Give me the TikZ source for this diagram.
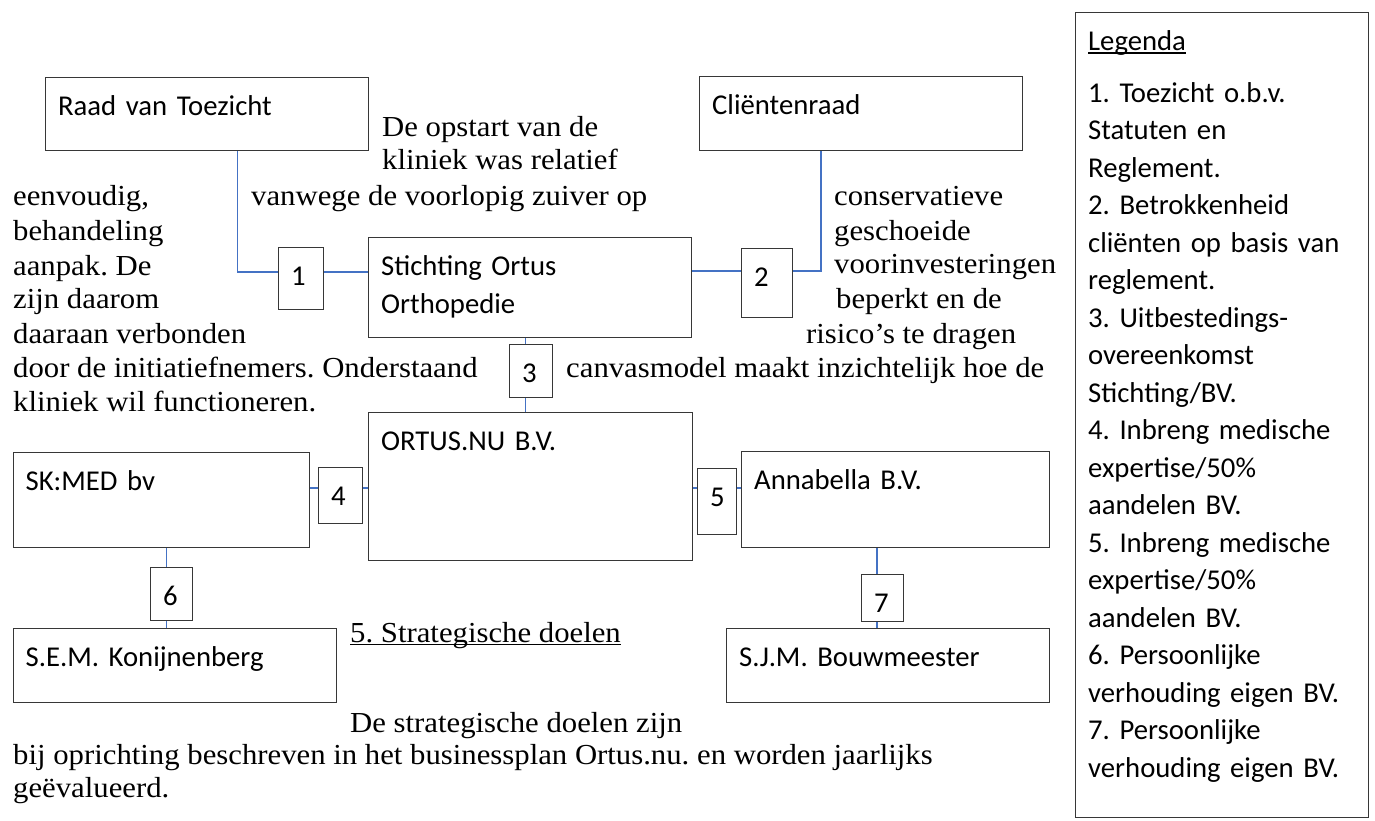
\documentclass[tikz,border=0pt]{standalone}
\usepackage{fontspec}
\setmainfont{Liberation Serif}[FakeStretch=1.06]
\newfontfamily\boxfont{Carlito}
\definecolor{boxline}{RGB}{55,55,55}
\definecolor{linkblue}{RGB}{68,114,196}
\newcommand{\wordline}[1]{\setbox0\hbox{#1}\rlap{\rule[-3pt]{\wd0}{1.2pt}}\box0}

\begin{document}
\frenchspacing
\begin{tikzpicture}[x=1pt,y=-1pt,
    font=\frenchspacing\fontsize{29}{34.5}\selectfont,
    orgbox/.style 2 args={draw=boxline,line width=1.3pt,anchor=north west,
      inner xsep=12.5pt,inner ysep=0pt,text width=#1pt-25pt,
      text height=38pt,text depth=#2pt-38pt,align=left,
      font=\boxfont\frenchspacing\fontsize{28.7}{37.5}\selectfont},
    link/.style={draw=linkblue,line width=1.2pt},
    txt/.style={anchor=base west,inner sep=0pt}]
  \useasboundingbox (0,0) rectangle (1375,820);

  % organisation
  \node[orgbox={323}{73}] (raad) at (45,77) {Raad van Toezicht};
  \node[orgbox={323}{74}] (client) at (699,76) {Cliëntenraad};
  \node[orgbox={323}{100}] (stichting) at (368,237) {Stichting Ortus\\Orthopedie};
  \node[orgbox={324}{148}] (ortus) at (368,412) {ORTUS.NU B.V.};
  \node[orgbox={296}{95}] (skmed) at (12.5,452) {SK:MED bv};
  \node[orgbox={308}{96}] (anna) at (741,451) {Annabella B.V.};
  \node[orgbox={323}{74}] (konij) at (12.5,628) {S.E.M. Konijnenberg};
  \node[orgbox={323}{74}] (bouw) at (726,628) {S.J.M. Bouwmeester};

  % numbered relations
  \node[orgbox={45}{62}] (n1) at (278,247) {1};
  \node[orgbox={51}{69}] (n2) at (741,248) {2};
  \node[orgbox={43}{53}] (n3) at (509,344) {3};
  \node[orgbox={44}{56}] (n4) at (318,467) {4};
  \node[orgbox={39}{66}] (n5) at (697,468) {5};
  \node[orgbox={42}{53}] (n6) at (150,567) {6};
  \node[orgbox={42}{47}] (n7) at (861,574) {7};

  \coordinate (bend1) at (237.5,272);
  \coordinate (bend2) at (821,271);
  \coordinate (col3) at (525.5,400);
  \coordinate (row45) at (500,488);
  \coordinate (col6) at (166.5,600);
  \coordinate (col7) at (877,600);

  \draw[link] (raad.south -| bend1) |- (n1.west |- bend1);
  \draw[link] (n1.east |- bend1) -- (stichting.west |- bend1);
  \draw[link] (stichting.east |- bend2) -- (n2.west |- bend2);
  \draw[link] (n2.east |- bend2) -| (client.south -| bend2);
  \draw[link] (stichting.south -| col3) -- (n3.north -| col3);
  \draw[link] (n3.south -| col3) -- (ortus.north -| col3);
  \draw[link] (skmed.east |- row45) -- (n4.west |- row45);
  \draw[link] (n4.east |- row45) -- (ortus.west |- row45);
  \draw[link] (ortus.east |- row45) -- (n5.west |- row45);
  \draw[link] (n5.east |- row45) -- (anna.west |- row45);
  \draw[link] (skmed.south -| col6) -- (n6.north -| col6);
  \draw[link] (n6.south -| col6) -- (konij.north -| col6);
  \draw[link] (anna.south -| col7) -- (n7.north -| col7);
  \draw[link] (n7.south -| col7) -- (bouw.north -| col7);

  % legend
  \node[orgbox={293}{805}] (legend) at (1075,12) {\wordline{Legenda}\\[14pt]
    1. Toezicht o.b.v.\\Statuten en\\Reglement.\\
    2. Betrokkenheid\\cliënten op basis van\\reglement.\\
    3. Uitbestedings-\\overeenkomst\\Stichting/BV.\\
    4. Inbreng medische\\expertise/50\%\\aandelen BV.\\
    5. Inbreng medische\\expertise/50\%\\aandelen BV.\\
    6. Persoonlijke\\verhouding eigen BV.\\
    7. Persoonlijke\\verhouding eigen BV.};

  % running text
  \node[txt] (p1) at (382,136) {De opstart van de};
  \node[txt] (p2) at (382,169) {kliniek was relatief};
  \node[txt] (p3) at (251,205) {vanwege de voorlopig zuiver op};
  \node[txt] (l1) at (13,205) {eenvoudig,};
  \node[txt] (l2) at (13,240) {behandeling};
  \node[txt] (l3) at (13,275) {aanpak. De};
  \node[txt] (l4) at (13,308) {zijn daarom};
  \node[txt] (l5) at (13,343) {daaraan verbonden};
  \node[txt] (l6) at (13,377) {door de initiatiefnemers. Onderstaand};
  \node[txt] (l7) at (13,411) {kliniek wil functioneren.};
  \node[txt] (r1) at (834,205) {conservatieve};
  \node[txt] (r2) at (834,240) {geschoeide};
  \node[txt] (r3) at (834,273) {voorinvesteringen};
  \node[txt] (r4) at (836,308) {beperkt en de};
  \node[txt] (r5) at (806,343) {risico’s te dragen};
  \node[txt] (r6) at (566,377) {canvasmodel maakt inzichtelijk hoe de};
  \node[txt] (s1) at (350,642) {\wordline{5. Strategische doelen}};
  \node[txt] (s2) at (350,732) {De strategische doelen zijn};
  \node[txt] (s3) at (13,764) {bij oprichting beschreven in het businessplan Ortus.nu. en worden jaarlijks};
  \node[txt] (s4) at (13,797) {geëvalueerd.};
\end{tikzpicture}
\end{document}
